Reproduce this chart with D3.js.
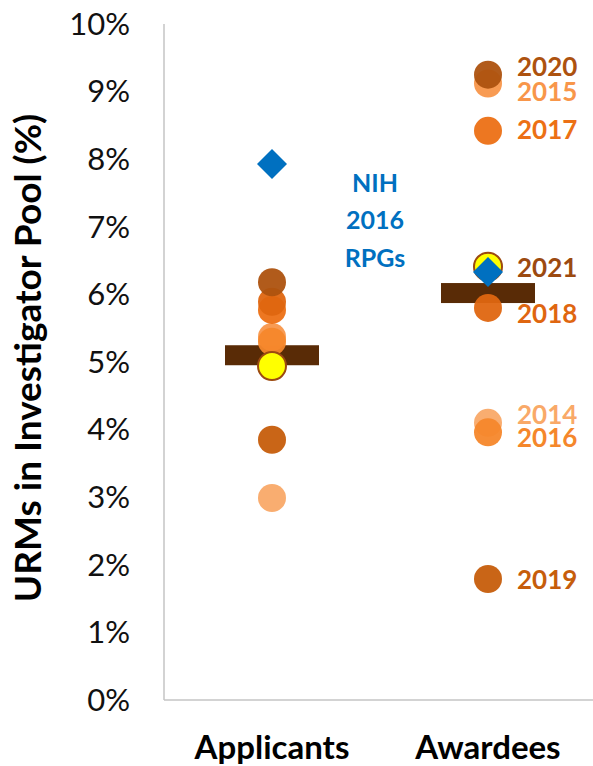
<!DOCTYPE html>
<meta charset="utf-8">
<head>
<title>URMs in Investigator Pool</title>
<script src="https://cdn.jsdelivr.net/npm/d3@7"></script>
</head>
<style>
html, body { margin: 0; background: #fff; }
text { font-family: Lato, "Open Sans", sans-serif; }
</style>
<body>
<script>
// data
var groups = ["Applicants", "Awardees"];
var years = [2014, 2015, 2016, 2017, 2018, 2019, 2020, 2021];
var applicants = [2.99, 5.37, 5.30, 5.77, 5.89, 3.85, 6.18, 4.94];
var awardees = [4.10, 9.12, 3.96, 8.42, 5.80, 1.79, 9.25, 6.41];
var means = [5.10, 6.02];
var nihRPG = [7.93, 6.33];
var yTicks = [0, 1, 2, 3, 4, 5, 6, 7, 8, 9, 10];

var yearColor = {
  2014: "#F9A968", 2015: "#F8964A", 2016: "#F5872B", 2017: "#EC7015",
  2018: "#DF6610", 2019: "#C65D0B", 2020: "#AD520F", 2021: "#FFFF00"
};
var labelColor = Object.assign({}, yearColor, {2021: "#9C4A10"});
// small nudges so overlapping labels stay readable
var labelNudge = {2014: -8, 2015: 8, 2016: 6, 2017: -1, 2018: 6, 2019: 1, 2020: -8, 2021: 1};

var width = 593, height = 766;
var svg = d3.select("body").append("svg")
    .attr("width", width).attr("height", height);

var x = d3.scaleBand().domain(groups).range([164, 596]);
var y = d3.scaleLinear().domain([0, 10]).range([700, 24]);
var cx = function (g) { return x(g) + x.bandwidth() / 2; };

// axis frame
svg.append("line").attr("x1", 164).attr("x2", 164).attr("y1", y(10)).attr("y2", y(0))
    .attr("stroke", "#c4c4c4").attr("stroke-width", 1.5);
svg.append("line").attr("x1", 164).attr("x2", width).attr("y1", y(0)).attr("y2", y(0))
    .attr("stroke", "#c4c4c4").attr("stroke-width", 1.5);

// y tick labels
svg.append("g").selectAll("text").data(yTicks).enter().append("text")
    .attr("x", 130).attr("y", function (d) { return y(d); })
    .attr("dy", "0.35em").attr("text-anchor", "end")
    .attr("font-size", 31).attr("fill", "#111")
    .text(function (d) { return d + "%"; });

// y title
svg.append("text")
    .attr("transform", "translate(41," + ((y(0) + y(10)) / 2 - 4) + ") rotate(-90)")
    .attr("text-anchor", "middle")
    .attr("font-size", 37).attr("font-weight", "bold").attr("fill", "#000")
    .text("URMs in Investigator Pool (%)");

// category labels
svg.append("g").selectAll("text").data(groups).enter().append("text")
    .attr("x", function (d) { return cx(d); }).attr("y", 759)
    .attr("text-anchor", "middle")
    .attr("font-size", 33).attr("font-weight", "bold").attr("fill", "#000")
    .text(function (d) { return d; });

// mean bars
svg.append("g").selectAll("rect").data(means).enter().append("rect")
    .attr("x", function (d, i) { return cx(groups[i]) - 47; })
    .attr("y", function (d) { return y(d) - 10; })
    .attr("width", 94).attr("height", 20)
    .attr("fill", "#592B06");

// yearly points
var pts = [];
years.forEach(function (yr, i) {
  pts.push({g: "Applicants", year: yr, v: applicants[i]});
  pts.push({g: "Awardees", year: yr, v: awardees[i]});
});
svg.append("g").selectAll("circle").data(pts).enter().append("circle")
    .attr("cx", function (d) { return cx(d.g); })
    .attr("cy", function (d) { return y(d.v); })
    .attr("r", 14)
    .attr("fill", function (d) { return yearColor[d.year]; })
    .attr("fill-opacity", function (d) { return d.year === 2021 ? 1 : 0.95; })
    .attr("stroke", function (d) { return d.year === 2021 ? "#9C4A10" : "none"; })
    .attr("stroke-width", 2);

// NIH diamonds
svg.append("g").selectAll("path").data(nihRPG).enter().append("path")
    .attr("d", d3.symbol().type(d3.symbolSquare).size(450))
    .attr("transform", function (d, i) {
      return "translate(" + cx(groups[i]) + "," + y(d) + ") rotate(45)";
    })
    .attr("fill", "#0070C0");

// year labels for awardees
svg.append("g").selectAll("text").data(years).enter().append("text")
    .attr("x", cx("Awardees") + 29)
    .attr("y", function (d, i) { return y(awardees[i]) + labelNudge[d]; })
    .attr("dy", "0.35em")
    .attr("font-size", 26).attr("font-weight", "bold")
    .attr("fill", function (d) { return labelColor[d]; })
    .text(function (d) { return d; });

// NIH annotation
svg.append("g").selectAll("text").data(["NIH", "2016", "RPGs"]).enter().append("text")
    .attr("x", 375).attr("y", function (d, i) { return 183 + i * 37.5; })
    .attr("dy", "0.35em").attr("text-anchor", "middle")
    .attr("font-size", 25).attr("font-weight", "bold").attr("fill", "#0070C0")
    .text(function (d) { return d; });
</script>
</body>
